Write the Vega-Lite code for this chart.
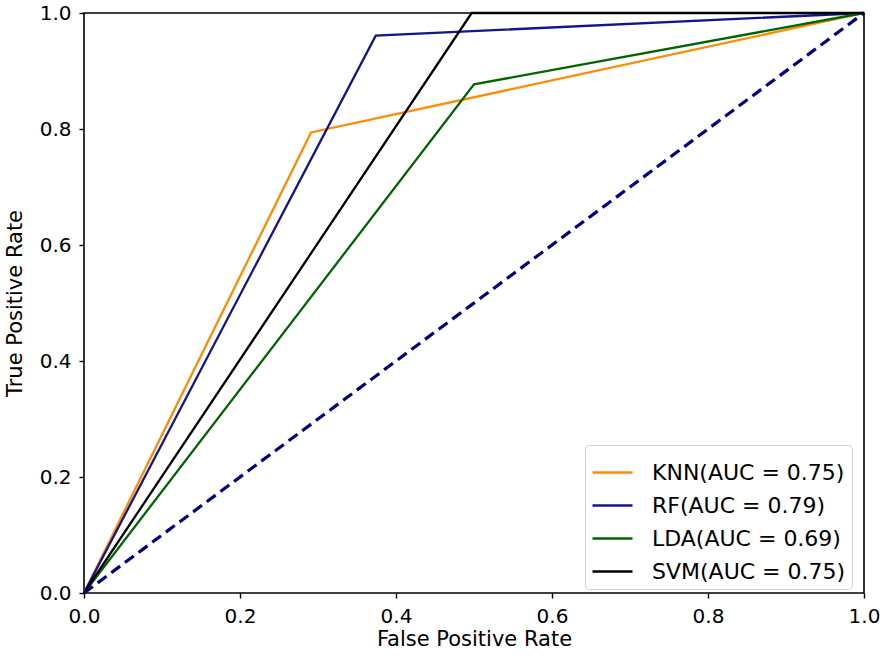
{
  "$schema": "https://vega.github.io/schema/vega-lite/v6.json",
  "width": 780,
  "height": 580,
  "autosize": {"type": "none"},
  "padding": {"left": 84, "top": 13, "right": 22, "bottom": 65},
  "background": "white",
  "datasets": {
    "roc": [
      {"model": "KNN(AUC = 0.75)", "step": 0, "fpr": 0.0, "tpr": 0.0},
      {"model": "KNN(AUC = 0.75)", "step": 1, "fpr": 0.291, "tpr": 0.794},
      {"model": "KNN(AUC = 0.75)", "step": 2, "fpr": 1.0, "tpr": 1.0},
      {"model": "RF(AUC = 0.79)", "step": 0, "fpr": 0.0, "tpr": 0.0},
      {"model": "RF(AUC = 0.79)", "step": 1, "fpr": 0.374, "tpr": 0.961},
      {"model": "RF(AUC = 0.79)", "step": 2, "fpr": 1.0, "tpr": 1.0},
      {"model": "LDA(AUC = 0.69)", "step": 0, "fpr": 0.0, "tpr": 0.0},
      {"model": "LDA(AUC = 0.69)", "step": 1, "fpr": 0.5, "tpr": 0.877},
      {"model": "LDA(AUC = 0.69)", "step": 2, "fpr": 1.0, "tpr": 1.0},
      {"model": "SVM(AUC = 0.75)", "step": 0, "fpr": 0.0, "tpr": 0.0},
      {"model": "SVM(AUC = 0.75)", "step": 1, "fpr": 0.497, "tpr": 1.0},
      {"model": "SVM(AUC = 0.75)", "step": 2, "fpr": 1.0, "tpr": 1.0}
    ],
    "chance": [
      {"fpr": 0.0, "tpr": 0.0},
      {"fpr": 1.0, "tpr": 1.0}
    ]
  },
  "layer": [
    {
      "data": {"name": "roc"},
      "mark": {"type": "line", "strokeWidth": 2.3, "clip": false},
      "encoding": {
        "x": {"field": "fpr", "type": "quantitative"},
        "y": {"field": "tpr", "type": "quantitative"},
        "order": {"field": "step"},
        "color": {
          "field": "model",
          "type": "nominal",
          "scale": {
            "domain": ["KNN(AUC = 0.75)", "RF(AUC = 0.79)", "LDA(AUC = 0.69)", "SVM(AUC = 0.75)"],
            "range": ["#ff8c00", "#14148c", "#006400", "#000000"]
          },
          "legend": {
            "title": null,
            "orient": "none",
            "legendX": 501,
            "legendY": 432,
            "padding": 6,
            "fillColor": "white",
            "strokeColor": "#d0d0d0",
            "cornerRadius": 4,
            "symbolType": "stroke",
            "symbolSize": 1600,
            "symbolStrokeWidth": 2.5,
            "labelFontSize": 22,
            "labelFont": "DejaVu Sans",
            "labelColor": "black",
            "labelLimit": 400,
            "labelOffset": 18,
            "rowPadding": 0
          }
        }
      }
    },
    {
      "data": {"name": "chance"},
      "mark": {"type": "line", "color": "#000080", "strokeWidth": 3.2, "strokeDash": [11, 6], "clip": false},
      "encoding": {
        "x": {"field": "fpr", "type": "quantitative"},
        "y": {"field": "tpr", "type": "quantitative"}
      }
    }
  ],
  "resolve": {"scale": {"x": "shared", "y": "shared"}},
  "encoding": {
    "x": {
      "field": "fpr",
      "type": "quantitative",
      "scale": {"domain": [0, 1], "nice": false, "zero": false},
      "axis": {"title": "False Positive Rate", "values": [0, 0.2, 0.4, 0.6, 0.8, 1.0], "format": ".1f"}
    },
    "y": {
      "field": "tpr",
      "type": "quantitative",
      "scale": {"domain": [0, 1], "nice": false, "zero": false},
      "axis": {"title": "True Positive Rate", "values": [0, 0.2, 0.4, 0.6, 0.8, 1.0], "format": ".1f"}
    }
  },
  "config": {
    "view": {"stroke": "black", "strokeWidth": 1.6},
    "axis": {
      "grid": false,
      "domain": false,
      "labelFlush": false,
      "labelOverlap": false,
      "tickColor": "black",
      "tickSize": 5,
      "tickWidth": 1.4,
      "labelFont": "DejaVu Sans",
      "labelFontSize": 20,
      "labelColor": "black",
      "labelPadding": 8,
      "titleFont": "DejaVu Sans",
      "titleFontSize": 21,
      "titleFontWeight": "normal",
      "titleColor": "black"
    },
    "axisX": {"titlePadding": 2},
    "axisY": {"titlePadding": 14}
  }
}
